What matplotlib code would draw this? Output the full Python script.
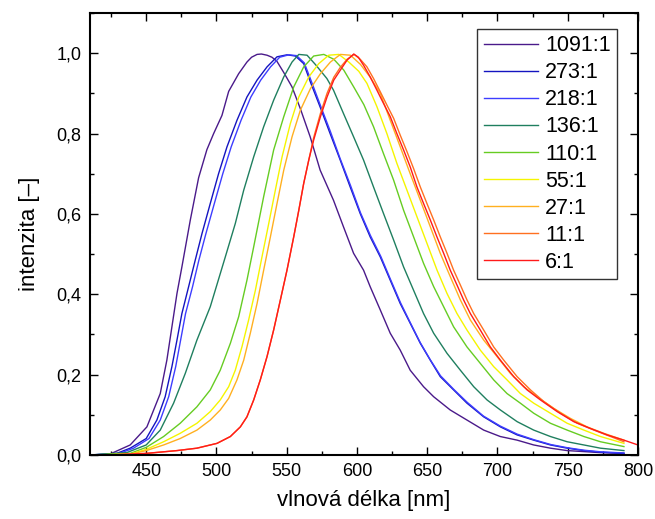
import matplotlib
matplotlib.use("Agg")
import matplotlib.pyplot as plt
from matplotlib.ticker import MultipleLocator, FuncFormatter

plt.rcParams['font.family'] = ['Liberation Sans', 'DejaVu Sans']

labels = ['1091:1', '273:1', '218:1', '136:1', '110:1', '55:1', '27:1', '11:1', '6:1']
colors = ['#4a1a8a', '#1414c0', '#3d3dff', '#1f7f5f', '#66cc22',
          '#f5f500', '#ffb020', '#ff7020', '#ff1a1a']

# wavelengths [nm] and normalised intensities
wl_1091 = [410, 424, 438.6, 450.5, 460, 464.7, 468.3, 471.9, 475.4, 481.4, 487.3, 493.2, 498, 503.9,
           508.7, 515.8, 521.7, 525, 528.9, 532, 536, 539.5, 543, 547.9, 553.8, 559.7, 566.7, 573.8,
           583.3, 590.4, 597.6, 604.7, 609.4, 616.6, 623.7, 630.8, 637.9, 647.4, 654.6, 666.4, 678.3,
           690.2, 702, 714, 725.8, 737.7, 749.6, 773, 790]
int_1091 = [0, 0.002, 0.025, 0.07, 0.153, 0.236, 0.319, 0.402, 0.468, 0.585, 0.69, 0.76, 0.80, 0.845,
            0.905, 0.949, 0.978, 0.99, 0.997, 0.998, 0.995, 0.99, 0.98, 0.952, 0.916, 0.862, 0.792,
            0.709, 0.634, 0.568, 0.502, 0.46, 0.419, 0.361, 0.303, 0.261, 0.211, 0.17, 0.145, 0.112,
            0.087, 0.062, 0.046, 0.037, 0.025, 0.017, 0.011, 0.006, 0.004]

wl_273 = [410, 429, 438.6, 450, 457.6, 463.5, 468.3, 471.9, 475.4, 480.2, 484.9, 489.7, 495.6, 501.5,
          507.5, 514.6, 521.7, 528.9, 536, 543.1, 550.2, 556.2, 562.1, 566.7, 573.8, 580.9, 588.1,
          595.2, 602.3, 609.4, 616.6, 623.7, 630.8, 637.9, 645.1, 652.2, 659.3, 668.8, 678.3, 690.2,
          702.1, 714, 725.8, 737.7, 749.6, 761.5, 773.3, 790]
int_273 = [0, 0.004, 0.017, 0.041, 0.087, 0.145, 0.22, 0.286, 0.352, 0.419, 0.485, 0.551, 0.626, 0.70,
           0.767, 0.833, 0.891, 0.933, 0.966, 0.991, 0.996, 0.993, 0.974, 0.93, 0.866, 0.80, 0.734,
           0.667, 0.601, 0.543, 0.493, 0.435, 0.377, 0.328, 0.278, 0.236, 0.195, 0.162, 0.129, 0.095,
           0.070, 0.050, 0.037, 0.025, 0.017, 0.011, 0.007, 0.004]

wl_218 = [410, 431, 441, 452, 460, 466, 471, 474.5, 478, 483, 487.5, 492.5, 498.5, 504.5, 510.5,
          517.5, 524.5, 531.5, 538.5, 545, 551.5, 557, 562.5, 567, 574, 581, 588, 595.5, 602.5, 609.5,
          617, 624, 631, 638, 645, 652, 659.5, 669, 678.5, 690, 702, 714, 726, 738, 750, 761.5,
          773.3, 790]
int_218 = [0, 0.004, 0.017, 0.041, 0.087, 0.145, 0.22, 0.286, 0.352, 0.419, 0.485, 0.551, 0.626, 0.70,
           0.767, 0.833, 0.891, 0.933, 0.966, 0.99, 0.996, 0.994, 0.976, 0.935, 0.87, 0.806, 0.738,
           0.67, 0.603, 0.547, 0.494, 0.436, 0.379, 0.329, 0.28, 0.238, 0.197, 0.163, 0.131, 0.097,
           0.072, 0.052, 0.038, 0.026, 0.018, 0.012, 0.008, 0.005]

wl_136 = [410, 436.2, 450, 460, 469.5, 477.8, 486.1, 495.6, 506.3, 513.4, 519.4, 526.5, 533.6, 540.7,
          547.9, 553.8, 558.6, 564.5, 570.4, 578.6, 583.3, 590.4, 597.6, 604.7, 611.8, 618.9, 626.1,
          633.2, 640.3, 647.4, 654.6, 664.1, 673.6, 683.1, 692.6, 702.1, 714, 725.8, 737.7, 749.6,
          761.5, 773.3, 790]
int_136 = [0, 0.006, 0.025, 0.062, 0.129, 0.203, 0.286, 0.369, 0.493, 0.576, 0.659, 0.742, 0.817, 0.883,
           0.941, 0.978, 0.997, 0.995, 0.972, 0.937, 0.908, 0.85, 0.792, 0.734, 0.667, 0.601, 0.535,
           0.468, 0.41, 0.352, 0.303, 0.253, 0.211, 0.17, 0.137, 0.112, 0.083, 0.062, 0.046, 0.033,
           0.025, 0.017, 0.011]

wl_110 = [410, 438.6, 450, 462.4, 474.2, 486.1, 495.6, 502.7, 509.9, 515.8, 521.7, 526.5, 533.6, 540.7,
          547.9, 555, 562.1, 569.2, 576.4, 583.5, 590.6, 597.7, 604.9, 611.8, 618.9, 626.1, 633.2,
          640.3, 647.4, 654.6, 661.7, 668.8, 678.3, 687.8, 697.3, 706.8, 716.3, 725.8, 737.7, 749.6,
          761.5, 773.3, 790]
int_110 = [0, 0.004, 0.019, 0.046, 0.079, 0.12, 0.162, 0.211, 0.278, 0.344, 0.435, 0.518, 0.643, 0.759,
           0.842, 0.916, 0.966, 0.993, 0.997, 0.985, 0.958, 0.916, 0.872, 0.817, 0.75, 0.684, 0.609,
           0.543, 0.477, 0.419, 0.369, 0.319, 0.269, 0.228, 0.187, 0.153, 0.129, 0.104, 0.079, 0.062,
           0.046, 0.033, 0.021]

wl_55 = [410, 438.6, 450, 462.4, 474.2, 486.1, 495.6, 502.7, 508.7, 513.4, 518.2, 522.9, 527.7, 532.4,
         537.2, 541.9, 546.7, 552.6, 558.6, 565.7, 572.8, 579.9, 587.1, 594.2, 601.3, 607.1, 614.2,
         621.3, 628.4, 635.6, 642.7, 649.8, 657, 664.1, 671.2, 678.3, 687.8, 697.3, 706.8, 716.3,
         725.8, 737.7, 749.6, 761.5, 773.3, 790]
int_55 = [0, 0.002, 0.014, 0.033, 0.054, 0.079, 0.108, 0.137, 0.17, 0.211, 0.27, 0.336, 0.41, 0.493,
          0.576, 0.659, 0.742, 0.825, 0.891, 0.941, 0.974, 0.995, 0.997, 0.978, 0.955, 0.925, 0.867,
          0.80, 0.726, 0.659, 0.593, 0.527, 0.46, 0.402, 0.352, 0.311, 0.261, 0.22, 0.187, 0.153,
          0.129, 0.104, 0.079, 0.062, 0.046, 0.029]

wl_27 = [410, 438.6, 450, 462.4, 474.2, 486.1, 495.6, 502.7, 508.7, 514.6, 519.4, 524.1, 528.9, 533.6,
         538.4, 543.1, 547.9, 553.8, 559.7, 566.9, 574, 581.1, 588.2, 595.4, 602.5, 609.5, 616.6,
         623.7, 630.8, 637.9, 645.1, 652.2, 659.3, 666.4, 673.6, 680.7, 690.2, 699.7, 709.2, 718.7,
         728.2, 740.1, 752, 763.8, 775.7, 790]
int_27 = [0, 0.002, 0.011, 0.025, 0.041, 0.062, 0.087, 0.112, 0.141, 0.187, 0.236, 0.303, 0.377, 0.46,
          0.543, 0.626, 0.709, 0.792, 0.858, 0.912, 0.949, 0.978, 0.997, 0.995, 0.972, 0.94, 0.90,
          0.833, 0.767, 0.70, 0.634, 0.568, 0.502, 0.444, 0.386, 0.336, 0.286, 0.245, 0.203, 0.17,
          0.145, 0.116, 0.091, 0.07, 0.054, 0.037]

wl_11 = [410, 424.3, 450, 471.9, 486.1, 500.4, 509.9, 517, 521.7, 526.5, 531.2, 536, 540.7, 545.5,
         550.2, 555, 558.6, 562.1, 565.7, 569.2, 574, 578.7, 583.5, 588.2, 593, 598, 602.3, 607.1,
         611.8, 616.6, 621.3, 626.1, 630.8, 635.6, 640.3, 645.1, 649.8, 654.6, 659.3, 664.1, 668.8,
         673.6, 678.3, 683.1, 690.2, 697.3, 704.5, 714, 723.5, 733, 744.9, 756.8, 768.7, 780.5, 790]
int_11 = [0, 0, 0.004, 0.011, 0.017, 0.029, 0.046, 0.07, 0.095, 0.137, 0.187, 0.245, 0.311, 0.386,
          0.46, 0.543, 0.609, 0.676, 0.734, 0.79, 0.85, 0.90, 0.94, 0.965, 0.985, 0.997, 0.985, 0.966,
          0.937, 0.904, 0.871, 0.838, 0.796, 0.755, 0.713, 0.667, 0.626, 0.585, 0.543, 0.502, 0.46,
          0.423, 0.386, 0.352, 0.311, 0.269, 0.236, 0.195, 0.162, 0.133, 0.104, 0.079, 0.062, 0.046,
          0.033]

wl_6 = [410, 424.3, 450, 471.9, 486.1, 500.4, 509.9, 517, 521.7, 526.5, 531.2, 536, 540.7, 545.5,
        550.2, 555, 558.6, 562.1, 565.7, 569.2, 574, 578.7, 583.5, 588.2, 593, 597.7, 601, 604.7,
        609.4, 614.2, 618.9, 623.7, 628.4, 633.2, 637.9, 642.7, 647.4, 652.2, 656.9, 661.7, 666.4,
        671.2, 675.9, 680.7, 687.8, 694.9, 702.1, 711.6, 721.1, 730.6, 742.5, 754.3, 766.2, 778.1,
        790, 800]
int_6 = [0, 0, 0.004, 0.011, 0.017, 0.029, 0.046, 0.07, 0.095, 0.137, 0.187, 0.245, 0.311, 0.386,
         0.46, 0.543, 0.609, 0.676, 0.734, 0.784, 0.842, 0.891, 0.933, 0.958, 0.983, 0.998, 0.99, 0.970,
         0.941, 0.908, 0.875, 0.842, 0.80, 0.759, 0.717, 0.667, 0.626, 0.585, 0.543, 0.502, 0.46,
         0.423, 0.386, 0.352, 0.311, 0.269, 0.236, 0.195, 0.162, 0.137, 0.108, 0.083, 0.066, 0.05,
         0.037, 0.025]

wavelengths = [wl_1091, wl_273, wl_218, wl_136, wl_110, wl_55, wl_27, wl_11, wl_6]
intensities = [int_1091, int_273, int_218, int_136, int_110, int_55, int_27, int_11, int_6]

fig = plt.figure(figsize=(6.55, 5.19), dpi=100)
ax = fig.add_axes([0.1374, 0.1233, 0.8366, 0.8516])

for wl, y, c, lab in zip(wavelengths, intensities, colors, labels):
    ax.plot(wl, y, color=c, lw=1.0, label=lab)

ax.set_xlim(410, 800)
ax.set_ylim(0, 1.1)
ax.xaxis.set_major_locator(MultipleLocator(50))
ax.xaxis.set_minor_locator(MultipleLocator(25))
ax.yaxis.set_major_locator(MultipleLocator(0.2))
ax.yaxis.set_minor_locator(MultipleLocator(0.1))
ax.yaxis.set_major_formatter(FuncFormatter(lambda v, p: ('%.1f' % v).replace('.', ',')))

ax.tick_params(which='both', direction='in', top=True, right=True, width=1.0, labelsize=13)
ax.tick_params(which='major', length=6, pad=6)
ax.tick_params(which='minor', length=3)
for s in ax.spines.values():
    s.set_linewidth(1.5)

ax.set_xlabel('vlnová délka [nm]', fontsize=16, labelpad=7)
ax.set_ylabel('intenzita [–]', fontsize=16, labelpad=12)

leg = ax.legend(loc='upper right', bbox_to_anchor=(0.962, 0.964), fontsize=15.5,
                frameon=True, fancybox=False, borderaxespad=0, borderpad=0.3,
                handlelength=2.5, handletextpad=0.35, labelspacing=0.28)
leg.get_frame().set_edgecolor('black')
leg.get_frame().set_linewidth(1.0)

fig.savefig('out.png', dpi=100)
